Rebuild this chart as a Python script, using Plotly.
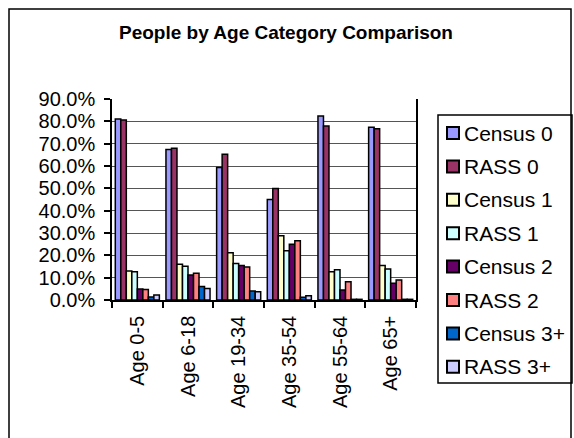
import plotly.graph_objects as go

categories = ["Age 0-5", "Age 6-18", "Age 19-34", "Age 35-54", "Age 55-64", "Age 65+"]

census_0 = [81.0, 67.4, 59.3, 45.0, 82.4, 77.4]
rass_0 = [80.6, 68.0, 65.3, 49.9, 77.9, 76.7]
census_1 = [13.0, 16.0, 21.2, 28.8, 12.7, 15.4]
rass_1 = [12.7, 15.1, 16.3, 22.0, 13.5, 13.9]
census_2 = [4.9, 11.2, 15.4, 25.0, 4.5, 7.5]
rass_2 = [4.7, 12.0, 14.8, 26.5, 8.2, 9.0]
census_3 = [1.3, 6.0, 4.0, 1.2, 0.3, 0.3]
rass_3 = [2.2, 5.2, 3.7, 1.9, 0.3, 0.3]

series_names = ["Census 0", "RASS 0", "Census 1", "RASS 1", "Census 2", "RASS 2", "Census 3+", "RASS 3+"]
series_values = [census_0, rass_0, census_1, rass_1, census_2, rass_2, census_3, rass_3]
series_colors = ["#9999FF", "#993366", "#FFFFCC", "#CCFFFF", "#660066", "#FF8080", "#0066CC", "#CCCCFF"]

W, H = 574, 438
FONT = "Liberation Sans, Arial, sans-serif"
pl, pr, pt, pb = 112, 416, 99, 300


def px_x(x):
    return (x - pl) / (pr - pl)


def px_y(y):
    return 1 - (y - pt) / (pb - pt)


fig = go.Figure()
for name, vals, col in zip(series_names, series_values, series_colors):
    fig.add_trace(go.Bar(
        x=categories, y=vals, name=name,
        marker=dict(color=col, line=dict(color="black", width=1.5)),
    ))

shapes = [
    dict(type="rect", xref="paper", yref="paper",
         x0=px_x(9), x1=px_x(571), y0=px_y(460), y1=px_y(9),
         line=dict(color="black", width=1.5), layer="below"),
    dict(type="rect", xref="paper", yref="paper",
         x0=px_x(438), x1=px_x(572), y0=px_y(383), y1=px_y(115),
         line=dict(color="black", width=1.5), layer="below"),
]
annotations = []
for i, (name, col) in enumerate(zip(series_names, series_colors)):
    cy = 133 + 33.4 * i
    shapes.append(dict(type="rect", xref="paper", yref="paper",
                       x0=px_x(447), x1=px_x(459), y0=px_y(cy + 6), y1=px_y(cy - 6),
                       fillcolor=col, line=dict(color="black", width=2)))
    annotations.append(dict(text=name, xref="paper", yref="paper", x=px_x(462), y=px_y(cy),
                            xanchor="left", yanchor="middle", showarrow=False,
                            font=dict(size=21, family=FONT, color="black")))

fig.update_layout(
    width=W, height=H,
    margin=dict(l=pl, r=W - pr, t=pt, b=H - pb),
    paper_bgcolor="white", plot_bgcolor="white",
    barmode="group", bargap=0.13, bargroupgap=0,
    font=dict(family=FONT, color="black"),
    title=dict(text="<b>People by Age Category Comparison</b>", x=286 / W, xref="container",
               xanchor="center", y=1 - 32 / H, yref="container", yanchor="middle",
               font=dict(size=19, family=FONT, color="black")),
    showlegend=False,
    shapes=shapes,
    annotations=annotations,
)

fig.update_yaxes(range=[0, 90], dtick=10, tickformat=".1f", ticksuffix="%",
                 showgrid=True, gridcolor="#555555", gridwidth=1.2,
                 showline=True, linecolor="black", linewidth=1.5, mirror=True,
                 ticks="outside", ticklen=6, tickcolor="black", tickwidth=1.5,
                 ticklabelstandoff=5,
                 tickfont=dict(size=20, family=FONT, color="black"), zeroline=False)
fig.update_xaxes(showline=True, linecolor="black", linewidth=1.5,
                 ticks="outside", ticklen=6, tickcolor="black", tickwidth=1.5,
                 tickson="boundaries", tickangle=-90, ticklabelstandoff=6,
                 tickfont=dict(size=20, family=FONT, color="black"))

fig.write_html("out.html")
